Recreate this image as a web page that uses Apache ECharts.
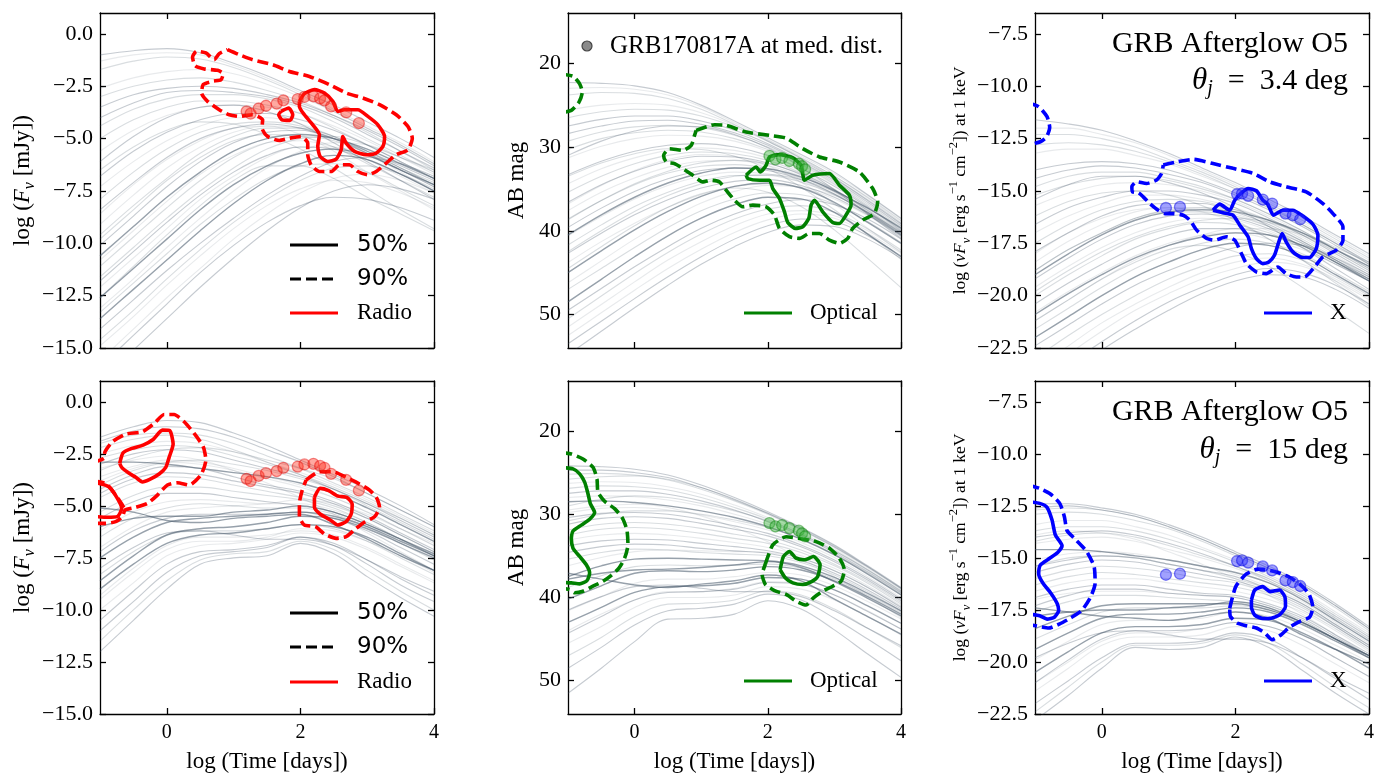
<!DOCTYPE html>
<html><head><meta charset="utf-8">
<script src="https://cdn.jsdelivr.net/npm/echarts@6/dist/echarts.min.js"></script>
<style>html,body{margin:0;padding:0;background:#fff}#c{width:1389px;height:776px}</style>
</head><body><div id="c"></div><script>
// ---------------- DATA ----------------
const timeGrid = [-1, -0.5, 0, 0.5, 1, 1.5, 2, 2.5, 3, 3.5, 4];
const xTicks = [0, 2, 4];
const fluxTicks = [-15, -12.5, -10, -7.5, -5, -2.5, 0];
const magTicks = [20, 30, 40, 50];
const xrayTicks = [-22.5, -20, -17.5, -15, -12.5, -10, -7.5];

// theta_j = 3.4 deg, model light curves (values at timeGrid)
const radioCurvesNarrow = [
[-1.0,-0.8,-0.7,-0.9,-1.4,-2.0,-2.7,-3.4,-4.2,-5.0,-5.9],
[-1.7,-1.3,-1.1,-1.2,-1.6,-2.2,-2.9,-3.7,-4.5,-5.3,-6.2],
[-2.6,-2.1,-1.8,-1.7,-1.9,-2.4,-3.0,-3.7,-4.5,-5.3,-6.2],
[-3.5,-2.9,-2.6,-2.5,-2.6,-2.9,-3.3,-3.9,-4.6,-5.4,-6.3],
[-4.4,-3.6,-3.1,-2.9,-2.9,-3.1,-3.5,-4.2,-5.0,-5.8,-6.6],
[-5.6,-4.6,-3.9,-3.5,-3.4,-3.5,-3.8,-4.4,-5.1,-5.9,-6.7],
[-6.8,-5.6,-4.7,-4.1,-3.8,-3.8,-4.1,-4.6,-5.3,-6.1,-6.9],
[-7.9,-6.6,-5.5,-4.7,-4.3,-4.2,-4.4,-4.9,-5.6,-6.4,-7.2],
[-9.1,-7.7,-6.4,-5.4,-4.7,-4.4,-4.5,-5.0,-5.7,-6.5,-7.3],
[-10.1,-8.7,-7.3,-6.1,-5.2,-4.7,-4.6,-5.0,-5.6,-6.3,-7.0],
[-11.1,-9.7,-8.3,-7.0,-5.9,-5.2,-4.9,-5.1,-5.7,-6.4,-7.1],
[-12.1,-10.7,-9.3,-7.9,-6.8,-5.9,-5.4,-5.4,-5.8,-6.5,-7.2],
[-13.6,-12.2,-10.8,-9.4,-8.1,-7.0,-6.2,-5.8,-6.0,-6.7,-7.5],
[-14.6,-13.2,-11.7,-10.3,-9.0,-7.9,-7.0,-6.4,-6.3,-6.7,-7.4],
[-15.6,-14.1,-12.6,-11.2,-9.8,-8.6,-7.6,-6.9,-6.7,-7.0,-7.6],
[-16.6,-15.1,-13.6,-12.1,-10.7,-9.4,-8.3,-7.5,-7.2,-7.4,-7.9],
[-12.6,-11.1,-9.6,-8.2,-7.0,-6.3,-6.3,-6.9,-7.8,-8.6,-9.4],
[-8.6,-7.2,-6.0,-5.1,-4.5,-4.4,-4.8,-5.6,-6.6,-7.5,-8.4],
[-6.1,-4.9,-4.0,-3.5,-3.4,-3.7,-4.3,-5.2,-6.1,-7.0,-7.9],
[-11.6,-10.2,-8.8,-7.5,-6.4,-5.5,-5.0,-4.9,-5.3,-5.9,-6.5],
[-13.1,-11.7,-10.2,-8.8,-7.5,-6.4,-5.6,-5.2,-5.3,-5.9,-6.6],
[-12.6,-11.2,-9.8,-8.4,-7.2,-6.3,-5.7,-5.5,-5.8,-6.5,-7.2],
[-3.0,-2.5,-2.2,-2.1,-2.3,-2.7,-3.2,-3.9,-4.7,-5.6,-6.5],
[-10.6,-9.2,-7.8,-6.6,-5.6,-5.0,-4.8,-5.0,-5.5,-6.2,-6.9],
[-14.1,-12.7,-11.3,-10.0,-8.8,-7.7,-6.8,-6.1,-5.9,-6.2,-6.8],
[-9.6,-8.2,-6.9,-5.7,-4.9,-4.5,-4.5,-4.9,-5.6,-6.4,-7.2],
[-1.3,-1.0,-0.9,-1.0,-1.5,-2.1,-2.8,-3.6,-4.4,-5.2,-6.1],
[-4.0,-3.3,-2.8,-2.7,-2.8,-3.0,-3.4,-4.0,-4.8,-5.6,-6.4],
[-5.0,-4.1,-3.5,-3.2,-3.2,-3.4,-3.8,-4.5,-5.3,-6.1,-6.9],
[-7.3,-6.1,-5.1,-4.4,-4.0,-4.0,-4.3,-4.9,-5.7,-6.6,-7.5],
[-8.4,-7.1,-5.9,-5.0,-4.5,-4.3,-4.5,-5.0,-5.7,-6.5,-7.3],
[-9.8,-8.4,-7.0,-5.9,-5.1,-4.8,-4.9,-5.4,-6.2,-7.0,-7.8],
[-10.8,-9.4,-8.0,-6.7,-5.8,-5.2,-5.1,-5.4,-6.0,-6.8,-7.6],
[-11.8,-10.4,-9.0,-7.7,-6.6,-5.8,-5.4,-5.5,-6.0,-6.7,-7.5],
[-13.3,-11.9,-10.5,-9.1,-7.9,-6.9,-6.3,-6.2,-6.6,-7.4,-8.2],
[-14.9,-13.5,-12.0,-10.6,-9.3,-8.2,-7.4,-7.0,-7.1,-7.6,-8.3],
[-15.9,-14.4,-12.9,-11.4,-10.1,-9.0,-8.2,-7.8,-7.9,-8.3,-8.9],
[-6.5,-5.4,-4.6,-4.2,-4.3,-4.8,-5.5,-6.4,-7.4,-8.4,-9.3]
];
const opticalCurvesNarrow = [
[22.3,22.4,22.7,23.5,25.0,26.9,28.9,30.9,33.0,35.7,38.5],
[23.8,23.5,23.6,24.2,25.5,27.3,29.3,31.3,33.5,36.0,38.8],
[25.6,25.0,24.8,25.0,25.9,27.4,29.2,31.3,33.5,36.1,39.0],
[27.5,26.7,26.3,26.3,26.9,28.0,29.6,31.6,33.8,36.4,39.2],
[29.3,28.2,27.6,27.4,27.7,28.6,30.0,31.9,34.2,36.8,39.6],
[31.3,29.9,29.0,28.6,28.7,29.3,30.5,32.3,34.5,37.1,39.9],
[33.3,31.7,30.5,29.8,29.6,30.0,31.0,32.6,34.7,37.2,40.0],
[35.4,33.5,32.0,31.0,30.6,30.8,31.6,33.1,35.1,37.6,40.3],
[37.6,35.4,33.7,32.4,31.7,31.6,32.2,33.5,35.4,37.9,40.6],
[39.6,37.3,35.3,33.8,32.8,32.5,32.8,33.9,35.6,37.8,40.2],
[41.7,39.3,37.1,35.4,34.1,33.4,33.4,34.2,35.7,37.9,40.4],
[43.8,41.3,39.1,37.2,35.7,34.7,34.4,34.9,36.2,38.2,40.6],
[48.5,45.8,43.1,40.6,38.5,36.9,36.0,36.2,37.8,40.4,43.1],
[50.5,47.8,45.1,42.6,40.4,38.6,37.4,37.0,37.8,39.8,42.3],
[52.5,49.8,47.1,44.5,42.2,40.2,38.7,38.0,38.5,40.3,42.7],
[54.8,52.0,49.2,46.5,44.0,41.9,40.2,39.3,39.5,41.0,43.3],
[44.5,41.9,39.4,37.2,35.6,34.9,35.4,37.1,39.9,43.3,46.8],
[36.8,34.6,32.8,31.5,30.9,31.1,32.2,34.2,36.8,39.7,42.6],
[31.0,29.3,28.1,27.5,27.6,28.5,30.1,32.4,35.1,38.0,40.9],
[42.5,40.0,37.7,35.8,34.4,33.5,33.3,33.9,35.3,37.3,39.6],
[46.2,43.6,41.0,38.7,36.7,35.3,34.6,34.8,35.8,37.8,40.1],
[45.0,42.4,39.9,37.7,35.9,34.7,34.3,34.9,36.6,39.0,41.5],
[26.5,25.8,25.5,25.6,26.3,27.6,29.3,31.4,33.7,36.3,39.1],
[40.5,38.1,36.0,34.3,33.1,32.5,32.6,33.6,35.2,37.3,39.7],
[49.5,46.9,44.3,41.9,39.7,38.0,36.8,36.3,36.9,38.6,41.0],
[38.7,36.4,34.4,32.9,31.9,31.6,32.0,33.2,35.1,37.5,40.1],
[23.0,22.9,23.1,23.8,25.2,27.1,29.1,31.1,33.2,35.8,38.6],
[28.4,27.5,26.9,26.8,27.3,28.3,29.8,31.8,34.0,36.6,39.4],
[30.3,29.0,28.3,28.0,28.2,29.0,30.3,32.1,34.4,37.0,39.8],
[34.4,32.6,31.3,30.4,30.1,30.4,31.3,32.9,35.0,37.6,40.4],
[36.6,34.5,32.9,31.7,31.1,31.2,31.9,33.3,35.3,37.8,40.5],
[38.6,36.4,34.5,33.1,32.3,32.1,32.6,33.8,35.6,38.0,40.7],
[40.6,38.3,36.2,34.6,33.5,33.0,33.2,34.1,35.7,37.9,40.3],
[42.7,40.3,38.1,36.3,34.9,34.1,33.9,34.6,36.0,38.1,40.5],
[47.0,44.5,42.0,39.6,37.6,36.2,35.5,35.7,36.8,38.9,41.4],
[51.5,48.8,46.1,43.5,41.3,39.4,38.0,37.6,38.2,40.0,42.5],
[53.5,50.8,48.1,45.5,43.1,41.0,39.4,38.6,38.9,40.6,43.0],
[33.5,31.9,30.8,30.2,30.3,31.1,32.6,34.8,37.5,40.4,43.4]
];
const xrayCurvesNarrow = [
[-11.6,-11.8,-12.1,-12.6,-13.2,-13.9,-14.6,-15.4,-16.2,-17.1,-18.0],
[-12.3,-12.3,-12.5,-12.9,-13.5,-14.1,-14.8,-15.6,-16.4,-17.3,-18.2],
[-13.2,-13.0,-13.0,-13.3,-13.7,-14.3,-14.9,-15.7,-16.5,-17.4,-18.3],
[-14.0,-13.7,-13.6,-13.7,-14.0,-14.5,-15.1,-15.8,-16.6,-17.5,-18.4],
[-14.8,-14.3,-14.1,-14.1,-14.4,-14.8,-15.4,-16.1,-16.9,-17.8,-18.7],
[-15.7,-15.1,-14.7,-14.6,-14.7,-15.0,-15.5,-16.2,-17.0,-17.9,-18.8],
[-16.6,-15.8,-15.3,-15.0,-15.0,-15.2,-15.6,-16.3,-17.1,-18.0,-18.9],
[-17.5,-16.6,-15.9,-15.5,-15.4,-15.5,-15.9,-16.5,-17.3,-18.2,-19.1],
[-18.4,-17.4,-16.6,-16.0,-15.8,-15.8,-16.1,-16.7,-17.5,-18.4,-19.3],
[-19.2,-18.2,-17.3,-16.6,-16.2,-16.1,-16.3,-16.8,-17.5,-18.3,-19.1],
[-20.0,-19.0,-18.1,-17.3,-16.8,-16.5,-16.6,-17.0,-17.6,-18.4,-19.2],
[-20.8,-19.8,-18.9,-18.1,-17.5,-17.1,-17.0,-17.3,-17.8,-18.5,-19.3],
[-22.0,-21.0,-20.0,-19.1,-18.4,-17.8,-17.5,-17.6,-18.1,-19.0,-19.9],
[-23.0,-21.9,-20.9,-20.0,-19.2,-18.6,-18.1,-18.0,-18.3,-19.1,-20.0],
[-24.0,-22.8,-21.7,-20.7,-19.9,-19.2,-18.7,-18.4,-18.6,-19.3,-20.2],
[-25.0,-23.8,-22.6,-21.6,-20.7,-19.9,-19.3,-19.0,-19.1,-19.7,-20.6],
[-21.2,-20.2,-19.2,-18.4,-17.8,-17.6,-17.9,-18.6,-19.6,-20.7,-21.8],
[-18.0,-17.0,-16.3,-15.9,-15.8,-16.0,-16.5,-17.3,-18.3,-19.3,-20.4],
[-15.4,-14.7,-14.3,-14.3,-14.6,-15.1,-15.8,-16.7,-17.7,-18.7,-19.7],
[-19.8,-18.8,-17.9,-17.2,-16.7,-16.4,-16.3,-16.5,-17.0,-17.7,-18.4],
[-21.2,-20.2,-19.2,-18.3,-17.6,-17.1,-16.8,-16.8,-17.1,-17.8,-18.6],
[-20.9,-19.9,-19.0,-18.2,-17.6,-17.2,-17.0,-17.1,-17.6,-18.4,-19.3],
[-12.8,-12.7,-12.8,-13.1,-13.6,-14.2,-14.9,-15.7,-16.6,-17.5,-18.5],
[-19.0,-18.0,-17.1,-16.4,-16.0,-15.9,-16.0,-16.4,-17.0,-17.8,-18.6],
[-22.4,-21.4,-20.4,-19.5,-18.8,-18.2,-17.7,-17.5,-17.6,-18.2,-19.0],
[-18.8,-17.8,-17.0,-16.3,-15.9,-15.8,-15.9,-16.4,-17.1,-17.9,-18.8],
[-12.0,-12.0,-12.3,-12.7,-13.3,-14.0,-14.7,-15.5,-16.3,-17.2,-18.1],
[-14.4,-14.0,-13.8,-13.9,-14.2,-14.6,-15.2,-15.9,-16.7,-17.6,-18.5],
[-15.2,-14.7,-14.4,-14.3,-14.5,-14.9,-15.4,-16.1,-16.9,-17.8,-18.7],
[-17.0,-16.2,-15.6,-15.2,-15.2,-15.4,-15.8,-16.4,-17.2,-18.1,-19.0],
[-17.9,-17.0,-16.2,-15.7,-15.6,-15.6,-16.0,-16.6,-17.4,-18.3,-19.2],
[-18.8,-17.8,-17.0,-16.3,-16.0,-16.0,-16.2,-16.7,-17.4,-18.3,-19.2],
[-19.6,-18.6,-17.7,-17.0,-16.5,-16.3,-16.4,-16.9,-17.6,-18.4,-19.2],
[-20.4,-19.4,-18.5,-17.7,-17.1,-16.8,-16.8,-17.1,-17.7,-18.5,-19.3],
[-21.6,-20.6,-19.6,-18.7,-18.0,-17.5,-17.3,-17.5,-18.0,-18.9,-19.8],
[-23.5,-22.4,-21.3,-20.4,-19.6,-18.9,-18.4,-18.2,-18.5,-19.2,-20.1],
[-24.5,-23.3,-22.2,-21.2,-20.3,-19.6,-19.0,-18.7,-18.9,-19.5,-20.4],
[-16.2,-15.5,-15.1,-15.0,-15.2,-15.7,-16.4,-17.3,-18.3,-19.4,-20.5]
];
// theta_j = 15 deg
const radioCurvesWide = [
[-1.7,-1.2,-0.9,-1.0,-1.5,-2.1,-2.8,-3.5,-4.2,-5.0,-5.9],
[-2.0,-1.6,-1.5,-1.6,-2.0,-2.6,-3.2,-3.9,-4.6,-5.4,-6.2],
[-2.5,-2.1,-1.9,-2.0,-2.4,-2.9,-3.4,-4.0,-4.7,-5.5,-6.3],
[-3.0,-2.5,-2.3,-2.4,-2.8,-3.2,-3.6,-4.2,-4.9,-5.7,-6.5],
[-2.9,-2.9,-3.0,-3.2,-3.4,-3.6,-3.9,-4.4,-5.1,-5.9,-6.7],
[-3.6,-3.1,-2.8,-2.9,-3.2,-3.6,-4.0,-4.6,-5.3,-6.1,-6.9],
[-4.2,-3.5,-3.1,-3.2,-3.6,-4.0,-4.3,-4.8,-5.5,-6.3,-7.1],
[-4.6,-3.9,-3.6,-3.7,-4.0,-4.3,-4.6,-5.0,-5.6,-6.4,-7.2],
[-5.1,-5.3,-5.7,-5.8,-5.6,-5.5,-5.4,-5.9,-6.6,-7.4,-8.1],
[-5.6,-4.8,-4.4,-4.4,-4.6,-4.8,-5.0,-5.3,-5.9,-6.6,-7.4],
[-6.5,-5.6,-5.1,-4.9,-5.0,-5.1,-5.1,-5.4,-6.0,-6.8,-7.6],
[-7.5,-6.5,-5.8,-5.6,-5.5,-5.4,-5.3,-5.5,-6.0,-6.7,-7.4],
[-8.6,-7.4,-6.4,-6.1,-6.0,-5.8,-5.5,-5.6,-6.1,-6.8,-7.5],
[-9.0,-7.8,-6.8,-6.4,-6.3,-6.1,-5.9,-6.0,-6.5,-7.3,-8.1],
[-10.0,-8.7,-7.4,-6.9,-6.8,-6.6,-6.3,-6.5,-7.1,-7.9,-8.7],
[-12.0,-10.5,-9.0,-7.8,-7.5,-7.4,-6.8,-7.3,-8.4,-9.4,-10.3],
[-3.3,-2.7,-2.3,-2.2,-2.4,-2.8,-3.2,-3.7,-4.4,-5.2,-6.0],
[-7.0,-6.0,-5.3,-5.1,-5.0,-4.9,-4.7,-4.9,-5.4,-6.1,-6.8],
[-11.0,-9.6,-8.2,-7.4,-7.2,-7.0,-6.5,-6.9,-7.8,-8.8,-9.6],
[-4.0,-3.3,-2.9,-2.8,-3.0,-3.3,-3.7,-4.2,-4.9,-5.6,-6.4],
[-6.0,-5.6,-5.5,-5.5,-5.3,-5.2,-5.0,-5.3,-5.9,-6.6,-7.3],
[-8.0,-7.0,-6.3,-6.2,-6.4,-6.6,-6.6,-6.9,-7.6,-8.4,-9.1],
[-2.2,-1.8,-1.6,-1.8,-2.3,-2.9,-3.5,-4.2,-5.0,-5.8,-6.6],
[-9.5,-8.2,-7.1,-6.7,-6.7,-6.5,-6.1,-6.2,-6.7,-7.4,-8.2],
[-1.9,-1.4,-1.2,-1.3,-1.7,-2.3,-2.9,-3.6,-4.4,-5.2,-6.0],
[-2.7,-2.3,-2.1,-2.2,-2.6,-3.0,-3.5,-4.1,-4.8,-5.6,-6.4],
[-3.8,-3.2,-2.9,-3.0,-3.3,-3.7,-4.1,-4.6,-5.3,-6.1,-6.9],
[-4.4,-3.7,-3.4,-3.5,-3.8,-4.1,-4.4,-4.9,-5.6,-6.4,-7.2],
[-5.3,-4.5,-4.1,-4.1,-4.3,-4.5,-4.7,-5.1,-5.8,-6.6,-7.4],
[-6.2,-5.3,-4.8,-4.7,-4.8,-4.9,-4.9,-5.2,-5.8,-6.6,-7.4],
[-7.2,-6.2,-5.6,-5.4,-5.4,-5.4,-5.3,-5.6,-6.2,-7.0,-7.8],
[-8.3,-7.2,-6.4,-6.2,-6.2,-6.1,-5.9,-6.1,-6.7,-7.5,-8.3],
[-9.3,-8.0,-6.9,-6.5,-6.5,-6.4,-6.2,-6.4,-7.0,-7.8,-8.6],
[-10.5,-9.1,-7.8,-7.2,-7.1,-6.9,-6.5,-6.8,-7.6,-8.5,-9.3],
[-11.5,-10.0,-8.6,-7.6,-7.3,-7.2,-6.7,-7.1,-8.1,-9.1,-10.0],
[-3.2,-2.8,-2.6,-2.8,-3.3,-3.9,-4.6,-5.4,-6.3,-7.2,-8.1]
];
const opticalCurvesWide = [
[24.2,24.3,24.6,25.3,26.5,28.0,29.7,31.6,33.7,36.2,38.8],
[25.2,25.1,25.3,25.9,27.0,28.4,30.0,31.9,34.0,36.4,39.0],
[26.3,26.1,26.2,26.7,27.6,28.9,30.4,32.2,34.2,36.6,39.2],
[27.5,27.2,27.2,27.6,28.4,29.5,30.9,32.6,34.6,36.9,39.4],
[28.5,28.4,28.6,29.0,29.6,30.4,31.5,33.0,34.9,37.2,39.7],
[29.8,29.3,29.2,29.5,30.1,30.9,31.9,33.4,35.2,37.5,40.0],
[31.2,30.5,30.3,30.5,31.1,31.8,32.6,33.9,35.7,37.9,40.4],
[32.5,31.8,31.6,31.8,32.3,32.9,33.5,34.6,36.2,38.3,40.8],
[37.1,37.8,38.5,38.8,38.4,38.0,37.3,38.0,40.2,42.3,44.4],
[33.8,33.2,33.0,33.1,33.5,33.9,34.4,35.3,36.8,38.8,41.2],
[35.4,34.6,34.2,34.3,34.6,34.8,35.0,35.8,37.3,39.3,41.6],
[37.5,36.2,35.4,35.3,35.4,35.5,35.6,36.2,37.6,39.5,41.6],
[40.2,38.6,37.1,36.8,36.9,36.7,36.3,36.7,38.0,39.9,42.0],
[43.0,41.2,39.4,38.7,38.6,38.3,37.6,37.8,39.1,41.0,43.1],
[45.5,43.5,41.2,40.0,40.0,39.7,38.7,39.0,40.3,42.3,44.5],
[51.5,48.5,45.3,42.6,42.5,42.0,40.4,41.4,43.9,46.8,49.6],
[29.0,28.2,27.8,28.0,28.7,29.6,30.8,32.4,34.4,36.7,39.2],
[36.2,35.2,34.5,34.3,34.4,34.5,34.6,35.3,36.8,38.8,41.1],
[48.5,46.0,43.3,41.6,41.3,40.8,39.6,40.3,42.5,45.0,47.6],
[30.8,30.0,29.6,29.6,30.0,30.7,31.6,33.0,34.8,37.0,39.5],
[37.8,37.1,36.7,36.6,36.4,36.1,35.7,36.4,38.1,40.1,42.2],
[41.5,39.9,38.7,38.5,38.9,39.3,39.3,39.9,41.6,43.7,45.8],
[25.8,25.5,25.4,25.8,26.8,28.3,29.9,31.7,33.8,36.3,38.9],
[44.0,42.0,40.3,39.3,39.3,38.9,38.1,38.4,39.7,41.6,43.8],
[24.7,24.7,25.0,25.6,26.8,28.2,29.9,31.8,33.9,36.3,38.9],
[26.9,26.6,26.7,27.1,28.0,29.2,30.6,32.4,34.4,36.7,39.3],
[28.0,27.8,27.9,28.3,29.0,30.0,31.2,32.8,34.8,37.1,39.6],
[30.4,29.9,29.8,30.0,30.6,31.4,32.3,33.7,35.5,37.7,40.2],
[31.9,31.2,31.0,31.2,31.7,32.4,33.1,34.3,36.0,38.1,40.6],
[33.1,32.5,32.3,32.5,32.9,33.4,34.0,35.0,36.5,38.6,41.0],
[34.6,33.9,33.6,33.7,34.1,34.4,34.7,35.6,37.1,39.1,41.4],
[38.8,37.4,36.3,36.1,36.2,36.1,36.0,36.5,37.8,39.7,41.8],
[41.6,39.9,38.3,37.8,37.8,37.5,37.0,37.3,38.6,40.5,42.6],
[44.3,42.3,40.3,39.4,39.3,39.0,38.2,38.4,39.7,41.7,43.8],
[47.0,44.8,42.3,40.8,40.7,40.3,39.2,39.7,41.4,43.7,46.0],
[29.5,29.0,28.8,29.2,30.2,31.6,33.3,35.3,37.5,39.9,42.4]
];
const xrayCurvesWide = [
[-12.4,-12.4,-12.6,-12.9,-13.4,-14.0,-14.7,-15.4,-16.2,-17.2,-18.3],
[-12.9,-12.8,-12.9,-13.2,-13.6,-14.2,-14.9,-15.6,-16.4,-17.4,-18.5],
[-13.4,-13.2,-13.2,-13.5,-13.9,-14.5,-15.1,-15.8,-16.6,-17.6,-18.6],
[-14.0,-13.8,-13.7,-13.9,-14.3,-14.8,-15.4,-16.0,-16.8,-17.8,-18.8],
[-14.6,-14.6,-14.7,-14.9,-15.1,-15.4,-15.7,-16.2,-17.0,-18.0,-19.0],
[-15.1,-14.8,-14.7,-14.8,-15.1,-15.4,-15.8,-16.4,-17.1,-18.1,-19.1],
[-15.7,-15.3,-15.1,-15.2,-15.5,-15.8,-16.1,-16.6,-17.3,-18.3,-19.3],
[-16.3,-15.9,-15.7,-15.8,-16.0,-16.2,-16.4,-16.8,-17.5,-18.4,-19.4],
[-17.4,-17.6,-17.8,-17.9,-18.0,-17.8,-17.6,-17.9,-18.7,-19.4,-20.1],
[-16.9,-16.5,-16.3,-16.3,-16.5,-16.7,-16.8,-17.2,-17.8,-18.7,-19.6],
[-17.6,-17.1,-16.8,-16.8,-16.9,-17.0,-17.1,-17.4,-18.0,-18.9,-19.8],
[-18.4,-17.8,-17.3,-17.2,-17.2,-17.2,-17.2,-17.5,-18.1,-18.9,-19.7],
[-19.4,-18.6,-17.9,-17.7,-17.7,-17.6,-17.4,-17.6,-18.2,-19.0,-19.8],
[-20.5,-19.5,-18.6,-18.3,-18.3,-18.2,-17.9,-18.0,-18.6,-19.4,-20.3],
[-21.4,-20.3,-19.2,-18.8,-18.8,-18.7,-18.3,-18.5,-19.2,-20.1,-21.0],
[-22.8,-21.6,-20.3,-19.3,-19.4,-19.3,-18.8,-19.3,-20.4,-21.5,-22.5],
[-14.2,-13.9,-13.8,-14.0,-14.4,-14.9,-15.4,-16.1,-16.9,-17.9,-18.9],
[-17.0,-16.7,-16.6,-16.6,-16.7,-16.8,-16.9,-17.3,-18.0,-18.9,-19.8],
[-22.0,-20.9,-19.8,-19.1,-19.1,-19.0,-18.6,-18.9,-19.8,-20.8,-21.8],
[-15.4,-15.0,-14.9,-15.0,-15.3,-15.6,-16.0,-16.5,-17.2,-18.2,-19.2],
[-17.8,-17.6,-17.5,-17.5,-17.4,-17.3,-17.1,-17.4,-18.1,-18.9,-19.7],
[-19.8,-19.1,-18.6,-18.5,-18.7,-18.9,-18.9,-19.1,-19.8,-20.7,-21.5],
[-12.7,-12.6,-12.7,-13.0,-13.5,-14.1,-14.8,-15.5,-16.3,-17.3,-18.4],
[-21.0,-20.0,-19.0,-18.6,-18.6,-18.4,-18.1,-18.3,-18.9,-19.8,-20.7],
[-12.6,-12.5,-12.7,-13.0,-13.5,-14.1,-14.8,-15.5,-16.3,-17.3,-18.4],
[-13.7,-13.5,-13.5,-13.7,-14.1,-14.6,-15.2,-15.9,-16.7,-17.7,-18.7],
[-14.3,-14.1,-14.0,-14.2,-14.6,-15.0,-15.5,-16.1,-16.9,-17.9,-18.9],
[-15.4,-15.1,-14.9,-15.0,-15.3,-15.6,-15.9,-16.5,-17.2,-18.2,-19.2],
[-16.0,-15.6,-15.4,-15.5,-15.7,-16.0,-16.2,-16.7,-17.4,-18.3,-19.3],
[-16.6,-16.2,-16.0,-16.0,-16.2,-16.4,-16.6,-17.0,-17.6,-18.5,-19.5],
[-17.3,-16.8,-16.5,-16.5,-16.7,-16.8,-16.9,-17.3,-17.9,-18.8,-19.7],
[-18.9,-18.2,-17.6,-17.4,-17.4,-17.4,-17.3,-17.5,-18.1,-18.9,-19.8],
[-19.9,-19.0,-18.2,-18.0,-18.0,-17.9,-17.6,-17.8,-18.4,-19.2,-20.0],
[-21.0,-19.9,-18.9,-18.5,-18.5,-18.4,-18.1,-18.3,-18.9,-19.8,-20.7],
[-22.4,-21.2,-20.0,-19.2,-19.2,-19.1,-18.7,-19.1,-20.1,-21.2,-22.2],
[-13.9,-13.7,-13.8,-14.1,-14.7,-15.3,-16.0,-16.8,-17.7,-18.7,-19.7]
];
const darkNarrow = [12, 21, 23];
const darkWide = [4, 8, 11, 12, 13, 20];

// GRB170817A at median distance
const grbRadio = [[1.195,-3.70],[1.255,-3.81],[1.375,-3.56],[1.485,-3.43],[1.645,-3.33],[1.745,-3.17],[1.96,-3.11],[2.06,-3.01],[2.195,-2.98],[2.295,-3.08],[2.36,-3.17],[2.46,-3.46],[2.685,-3.75],[2.875,-4.26]];
const grbOptical = [[2.025,31.07],[2.115,31.47],[2.215,31.31],[2.325,31.67],[2.465,31.98],[2.515,32.30],[2.56,32.66]];
const grbXray = [[0.96,-15.81],[1.17,-15.76],[2.025,-15.15],[2.10,-15.12],[2.19,-15.23],[2.41,-15.41],[2.55,-15.60],[2.75,-16.08],[2.86,-16.16],[2.97,-16.35]];

// credible contours: theta_j = 3.4 deg
const radioNarrow90 = [[0.91,-0.75],[1.085,-0.99],[1.285,-1.23],[1.585,-1.47],[1.835,-1.79],[2.135,-2.03],[2.435,-2.42],[2.685,-2.82],[2.935,-3.06],[3.185,-3.38],[3.435,-3.86],[3.61,-4.42],[3.675,-4.98],[3.61,-5.53],[3.435,-5.77],[3.285,-6.17],[3.135,-6.57],[3.01,-6.73],[2.86,-6.57],[2.735,-6.25],[2.585,-6.25],[2.46,-6.57],[2.285,-6.57],[2.16,-6.25],[2.11,-5.77],[2.11,-5.22],[2.01,-4.90],[1.835,-4.98],[1.685,-5.09],[1.51,-4.90],[1.425,-4.50],[1.435,-4.10],[1.285,-3.86],[1.085,-3.94],[0.935,-3.86],[0.785,-3.62],[0.61,-3.22],[0.52,-2.82],[0.545,-2.42],[0.685,-2.26],[0.81,-2.19],[0.845,-1.90],[0.76,-1.74],[0.56,-1.67],[0.425,-1.52],[0.385,-1.10],[0.445,-0.83],[0.585,-0.91],[0.71,-1.23],[0.785,-0.94],[0.91,-0.75]];
const radioNarrow50 = [[1.985,-3.22],[2.06,-2.85],[2.21,-2.66],[2.36,-2.82],[2.485,-3.22],[2.56,-3.70],[2.66,-3.62],[2.86,-3.62],[3.01,-3.94],[3.16,-4.34],[3.26,-4.90],[3.235,-5.37],[3.135,-5.69],[2.985,-5.77],[2.81,-5.61],[2.685,-5.22],[2.635,-4.90],[2.61,-5.53],[2.535,-5.98],[2.41,-6.09],[2.295,-5.85],[2.26,-5.37],[2.285,-4.82],[2.185,-4.34],[2.06,-3.86],[1.985,-3.46],[1.985,-3.22]];
const radioNarrow50b = [[1.71,-3.70],[1.825,-3.54],[1.885,-3.86],[1.845,-4.13],[1.725,-4.10],[1.675,-3.86],[1.71,-3.70]];
const opticalNarrow90 = [[0.925,28.02],[1.20,27.34],[1.375,27.42],[1.675,28.21],[2.025,28.61],[2.275,28.93],[2.525,30.20],[2.775,31.19],[3.075,31.79],[3.375,32.98],[3.575,34.96],[3.65,36.55],[3.60,37.94],[3.425,38.73],[3.275,39.72],[3.20,40.91],[3.075,41.51],[2.925,41.11],[2.775,40.32],[2.625,40.32],[2.475,40.91],[2.325,40.71],[2.175,39.72],[2.10,38.13],[1.975,37.14],[1.775,36.94],[1.625,37.14],[1.50,36.35],[1.375,35.16],[1.275,34.17],[1.15,33.97],[1.025,34.17],[0.875,33.37],[0.725,32.58],[0.60,31.98],[0.475,31.79],[0.435,30.99],[0.525,30.20],[0.725,30.40],[0.85,29.80],[0.90,28.61],[0.925,28.02]];
const opticalNarrow90b = [[-1.1,21.3],[-0.925,21.55],[-0.825,22.46],[-0.785,23.45],[-0.835,24.64],[-0.95,25.63],[-1.1,25.9]];
const opticalNarrow50 = [[1.675,33.37],[1.825,32.38],[1.885,32.98],[1.975,32.18],[2.025,31.19],[2.175,30.91],[2.375,31.31],[2.50,32.18],[2.55,33.97],[2.675,33.37],[2.925,33.17],[3.075,34.56],[3.225,35.75],[3.25,36.94],[3.175,38.13],[3.075,39.13],[2.975,39.01],[2.825,37.74],[2.70,36.35],[2.65,36.94],[2.615,38.53],[2.525,39.52],[2.415,39.72],[2.30,39.01],[2.25,37.74],[2.175,36.15],[2.075,34.96],[2.025,33.97],[1.875,33.97],[1.70,33.77],[1.675,33.37]];
const xrayNarrow90 = [[0.92,-13.76],[1.12,-13.61],[1.37,-13.49],[1.665,-13.69],[1.965,-13.92],[2.265,-14.16],[2.51,-14.56],[2.76,-14.80],[3.06,-15.04],[3.31,-15.60],[3.46,-16.08],[3.61,-16.71],[3.61,-17.35],[3.51,-17.83],[3.31,-18.15],[3.185,-18.63],[3.035,-19.11],[2.91,-19.11],[2.76,-18.95],[2.635,-18.63],[2.46,-18.95],[2.315,-18.87],[2.165,-18.47],[2.09,-17.99],[1.99,-17.35],[1.865,-17.19],[1.69,-17.35],[1.57,-17.27],[1.42,-16.87],[1.32,-16.40],[1.22,-16.16],[1.07,-16.08],[0.945,-16.08],[0.845,-15.92],[0.72,-15.60],[0.62,-15.28],[0.55,-15.09],[0.46,-15.04],[0.45,-14.80],[0.52,-14.56],[0.67,-14.64],[0.82,-14.48],[0.895,-14.16],[0.92,-13.76]];
const xrayNarrow90b = [[-1.1,-10.8],[-0.945,-10.98],[-0.82,-11.45],[-0.78,-11.96],[-0.83,-12.44],[-0.92,-12.65],[-1.1,-12.8]];
const xrayNarrow50 = [[1.665,-15.92],[1.765,-15.63],[1.915,-15.92],[1.99,-15.44],[2.09,-15.09],[2.19,-14.88],[2.315,-14.99],[2.41,-15.44],[2.485,-15.63],[2.57,-16.16],[2.71,-15.92],[2.86,-15.92],[3.01,-16.20],[3.16,-16.59],[3.235,-17.11],[3.21,-17.75],[3.11,-18.18],[3.00,-18.18],[2.86,-17.91],[2.76,-17.43],[2.70,-17.03],[2.65,-17.43],[2.585,-18.07],[2.50,-18.39],[2.41,-18.47],[2.315,-18.23],[2.24,-17.75],[2.19,-17.19],[2.065,-16.63],[1.965,-16.16],[1.815,-16.04],[1.665,-15.92]];

// credible contours: theta_j = 15 deg
const radioWide90 = [[-1.1,-2.9],[-0.94,-2.72],[-0.925,-2.40],[-0.815,-1.92],[-0.615,-1.55],[-0.365,-1.44],[-0.19,-1.04],[-0.04,-0.61],[0.11,-0.61],[0.26,-0.96],[0.41,-1.52],[0.545,-2.16],[0.585,-2.80],[0.51,-3.52],[0.335,-4.00],[0.16,-3.89],[0.01,-4.00],[-0.14,-4.48],[-0.29,-4.88],[-0.465,-5.07],[-0.625,-5.20],[-0.665,-5.52],[-0.765,-5.76],[-0.915,-5.84],[-1.1,-5.84]];
const radioWide90b = [[-1.1,-3.8],[-0.915,-3.92],[-0.765,-4.48],[-0.665,-4.96],[-0.625,-5.20]];
const radioWide90c = [[2.085,-3.76],[2.285,-3.36],[2.485,-3.36],[2.685,-3.63],[2.885,-3.95],[3.035,-4.24],[3.145,-4.64],[3.185,-5.07],[3.11,-5.52],[2.945,-5.81],[2.795,-6.19],[2.685,-6.48],[2.535,-6.56],[2.36,-6.35],[2.225,-6.00],[2.06,-5.92],[1.985,-5.52],[1.985,-4.88],[2.025,-4.27],[2.085,-3.76]];
const radioWide50 = [[-0.705,-2.96],[-0.655,-2.45],[-0.525,-2.24],[-0.355,-2.08],[-0.205,-1.81],[-0.065,-1.36],[0.045,-1.39],[0.095,-2.03],[0.035,-2.67],[-0.015,-3.15],[-0.115,-3.47],[-0.255,-3.73],[-0.365,-3.85],[-0.465,-3.63],[-0.575,-3.41],[-0.675,-3.15],[-0.705,-2.96]];
const radioWide50b = [[-1.1,-3.85],[-0.865,-4.08],[-0.74,-4.64],[-0.675,-5.12],[-0.74,-5.52],[-0.89,-5.55],[-1.1,-5.5]];
const radioWide50c = [[2.21,-4.59],[2.295,-4.16],[2.425,-4.27],[2.56,-4.53],[2.695,-4.59],[2.775,-4.91],[2.76,-5.39],[2.685,-5.76],[2.56,-5.92],[2.435,-5.65],[2.295,-5.39],[2.21,-5.07],[2.21,-4.59]];
const opticalWide90 = [[-1.1,22.6],[-0.95,22.78],[-0.775,23.37],[-0.625,24.37],[-0.565,25.75],[-0.55,27.34],[-0.45,28.45],[-0.30,29.33],[-0.185,30.44],[-0.115,31.90],[-0.10,33.69],[-0.15,35.28],[-0.235,36.47],[-0.35,37.34],[-0.475,38.06],[-0.625,38.65],[-0.775,39.25],[-0.90,39.44],[-0.975,39.05],[-1.1,38.9]];
const opticalWide90c = [[1.965,35.95],[2.075,33.69],[2.275,32.70],[2.525,32.98],[2.725,33.29],[2.925,34.09],[3.075,35.28],[3.15,36.67],[3.10,38.06],[2.975,38.65],[2.825,39.25],[2.685,40.04],[2.575,40.91],[2.425,40.44],[2.275,39.64],[2.10,39.17],[1.965,38.45],[1.915,37.26],[1.965,35.95]];
const opticalWide50 = [[-1.1,24.4],[-0.925,24.56],[-0.825,25.16],[-0.75,26.15],[-0.70,27.54],[-0.665,28.73],[-0.60,29.80],[-0.675,30.60],[-0.80,31.31],[-0.925,32.02],[-0.95,32.90],[-0.925,34.09],[-0.825,35.08],[-0.725,36.07],[-0.675,37.06],[-0.715,37.98],[-0.825,38.37],[-0.95,38.25],[-1.1,38.2]];
const opticalWide50c = [[2.185,36.67],[2.235,35.08],[2.325,34.48],[2.425,35.28],[2.55,35.48],[2.685,35.08],[2.785,36.07],[2.75,37.46],[2.65,38.13],[2.525,38.45],[2.375,38.25],[2.265,37.66],[2.185,36.67]];
const xrayWide90 = [[-1.1,-11.5],[-0.93,-11.66],[-0.77,-11.93],[-0.63,-12.38],[-0.56,-13.02],[-0.52,-13.69],[-0.385,-14.14],[-0.225,-14.70],[-0.115,-15.42],[-0.10,-16.22],[-0.165,-16.86],[-0.30,-17.53],[-0.475,-17.90],[-0.63,-18.17],[-0.795,-18.37],[-0.93,-18.30],[-1.1,-18.2]];
const xrayWide90c = [[1.915,-17.42],[2.005,-16.38],[2.165,-15.77],[2.34,-15.54],[2.49,-15.58],[2.635,-15.70],[2.81,-15.93],[2.96,-16.25],[3.10,-16.73],[3.16,-17.37],[3.11,-17.85],[2.96,-18.06],[2.81,-18.33],[2.685,-18.69],[2.55,-18.93],[2.44,-18.61],[2.315,-18.37],[2.165,-18.26],[2.025,-18.13],[1.925,-17.81],[1.915,-17.42]];
const xrayWide50 = [[-1.1,-12.3],[-0.93,-12.38],[-0.82,-12.57],[-0.745,-13.18],[-0.695,-13.90],[-0.595,-14.42],[-0.66,-14.74],[-0.78,-15.02],[-0.92,-15.34],[-0.945,-15.77],[-0.88,-16.22],[-0.77,-16.66],[-0.67,-17.18],[-0.645,-17.53],[-0.71,-17.85],[-0.82,-17.94],[-0.93,-17.78],[-1.1,-17.7]];
const xrayWide50c = [[2.24,-17.02],[2.29,-16.54],[2.41,-16.38],[2.52,-16.62],[2.66,-16.54],[2.74,-16.86],[2.75,-17.34],[2.66,-17.74],[2.535,-17.90],[2.41,-17.91],[2.29,-17.75],[2.24,-17.37],[2.24,-17.02]];

// ---------------- CHART ----------------
const SERIF = '"Liberation Serif","Times New Roman",serif';
const chart = echarts.init(document.getElementById('c'), null, {renderer: 'canvas'});

const gridPos = [
  {left: 100, top: 13, width: 334, height: 335},
  {left: 568, top: 13, width: 333, height: 335},
  {left: 1035, top: 13, width: 334, height: 335},
  {left: 100, top: 381, width: 334, height: 333},
  {left: 568, top: 381, width: 333, height: 333},
  {left: 1035, top: 381, width: 334, height: 333}
];
const kinds = ['radio', 'optical', 'xray', 'radio', 'optical', 'xray'];
const yCfg = {
  radio: {min: -15, max: 1, ticks: fluxTicks, inverse: false, fmt: v => v.toFixed(1).replace('-', '\u2212')},
  optical: {min: 14, max: 54, ticks: magTicks, inverse: true, fmt: v => String(v)},
  xray: {min: -22.5, max: -6.5, ticks: xrayTicks, inverse: false, fmt: v => v.toFixed(1).replace('-', '\u2212')}
};
const richBase = {
  n: {fontFamily: SERIF, fontSize: 23, color: '#000', lineHeight: 30},
  i: {fontFamily: SERIF, fontStyle: 'italic', fontSize: 23, color: '#000', lineHeight: 30},
  s: {fontFamily: SERIF, fontStyle: 'italic', fontSize: 16, color: '#000', lineHeight: 16, verticalAlign: 'bottom'}
};
const richX = {
  n: {fontFamily: SERIF, fontSize: 17.5, color: '#000', lineHeight: 26},
  i: {fontFamily: SERIF, fontStyle: 'italic', fontSize: 17.5, color: '#000', lineHeight: 26},
  s: {fontFamily: SERIF, fontStyle: 'italic', fontSize: 12.5, color: '#000', lineHeight: 12, verticalAlign: 'bottom'},
  p: {fontFamily: SERIF, fontSize: 12.5, color: '#000', lineHeight: 12, verticalAlign: 'top'}
};
const yNames = {
  radio: {text: '{n|log (}{i|F}{s|\u03bd}{n| [mJy])}', rich: richBase, gap: 60},
  optical: {text: '{n|AB mag}', rich: richBase, gap: 36},
  xray: {text: '{n|log (}{i|\u03bdF}{s|\u03bd}{n| [erg s}{p|\u22121}{n| cm}{p|\u22122}{n|]) at 1 keV}', rich: richX, gap: 55}
};

const axLine = {onZero: false, lineStyle: {color: '#000', width: 1.3}};
const xAxis = [], yAxis = [];
gridPos.forEach((g, i) => {
  const bottomRow = i >= 3;
  xAxis.push({
    type: 'value', gridIndex: i, min: -1, max: 4, position: 'bottom',
    axisLine: axLine,
    axisTick: {inside: true, length: 6, customValues: xTicks, lineStyle: {color: '#000', width: 1.3}},
    axisLabel: {show: bottomRow, customValues: xTicks, showMinLabel: true, showMaxLabel: true, fontFamily: SERIF, fontSize: 20, color: '#000', margin: 9},
    splitLine: {show: false},
    name: bottomRow ? 'log (Time [days])' : '', nameLocation: 'middle', nameGap: 36,
    nameTextStyle: {fontFamily: SERIF, fontSize: 23, color: '#000'}
  });
});
gridPos.forEach((g, i) => {
  xAxis.push({
    type: 'value', gridIndex: i, min: -1, max: 4, position: 'top',
    axisLine: axLine,
    axisTick: {inside: true, length: 6, customValues: xTicks, lineStyle: {color: '#000', width: 1.3}},
    axisLabel: {show: false}, splitLine: {show: false}
  });
});
gridPos.forEach((g, i) => {
  const c = yCfg[kinds[i]], nm = yNames[kinds[i]];
  yAxis.push({
    type: 'value', gridIndex: i, min: c.min, max: c.max, inverse: c.inverse, position: 'left',
    axisLine: axLine,
    axisTick: {inside: true, length: 6, customValues: c.ticks, lineStyle: {color: '#000', width: 1.3}},
    axisLabel: {customValues: c.ticks, formatter: c.fmt, showMinLabel: true, showMaxLabel: true, fontFamily: SERIF, fontSize: 22, color: '#000', margin: 7},
    splitLine: {show: false},
    name: nm.text, nameLocation: 'middle', nameGap: nm.gap, nameRotate: 90,
    nameTextStyle: {rich: nm.rich, fontFamily: SERIF, fontSize: 23, color: '#000'}
  });
});
gridPos.forEach((g, i) => {
  const c = yCfg[kinds[i]];
  yAxis.push({
    type: 'value', gridIndex: i, min: c.min, max: c.max, inverse: c.inverse, position: 'right',
    axisLine: axLine,
    axisTick: {inside: true, length: 6, customValues: c.ticks, lineStyle: {color: '#000', width: 1.3}},
    axisLabel: {show: false}, splitLine: {show: false}
  });
});

const panels = [
  {curves: radioCurvesNarrow, dark: darkNarrow, c90: [radioNarrow90], c50: [radioNarrow50, radioNarrow50b], pts: grbRadio, col: '#ff0000', fill: 'rgba(255,40,20,0.5)', edge: 'rgba(230,0,0,0.55)'},
  {curves: opticalCurvesNarrow, dark: darkNarrow, c90: [opticalNarrow90, opticalNarrow90b], c50: [opticalNarrow50], pts: grbOptical, col: '#008000', fill: 'rgba(60,180,60,0.55)', edge: 'rgba(0,128,0,0.55)'},
  {curves: xrayCurvesNarrow, dark: darkNarrow, c90: [xrayNarrow90, xrayNarrow90b], c50: [xrayNarrow50], pts: grbXray, col: '#0000ff', fill: 'rgba(40,40,255,0.55)', edge: 'rgba(0,0,230,0.6)'},
  {curves: radioCurvesWide, dark: darkWide, c90: [radioWide90, radioWide90b, radioWide90c], c50: [radioWide50, radioWide50b, radioWide50c], pts: grbRadio, col: '#ff0000', fill: 'rgba(255,40,20,0.5)', edge: 'rgba(230,0,0,0.55)'},
  {curves: opticalCurvesWide, dark: darkWide, c90: [opticalWide90, opticalWide90c], c50: [opticalWide50, opticalWide50c], pts: grbOptical, col: '#008000', fill: 'rgba(60,180,60,0.55)', edge: 'rgba(0,128,0,0.55)'},
  {curves: xrayCurvesWide, dark: darkWide, c90: [xrayWide90, xrayWide90c], c50: [xrayWide50, xrayWide50c], pts: grbXray, col: '#0000ff', fill: 'rgba(40,40,255,0.55)', edge: 'rgba(0,0,230,0.6)'}
];

const series = [];
panels.forEach((p, i) => {
  p.curves.forEach((cv, k) => {
    const dark = p.dark.indexOf(k) >= 0;
    const a = dark ? 0.55 : (k % 3 === 0 ? 0.3 : (k % 3 === 1 ? 0.2 : 0.12));
    series.push({
      type: 'line', xAxisIndex: i, yAxisIndex: i, silent: true, animation: false,
      data: timeGrid.map((t, j) => [t, cv[j]]),
      smooth: 0.35, showSymbol: false, z: 1,
      lineStyle: {color: 'rgba(66,84,102,' + a + ')', width: dark ? 1.4 : 1.1}
    });
  });
  p.c90.forEach(poly => series.push({
    type: 'line', xAxisIndex: i, yAxisIndex: i, silent: true, animation: false,
    data: poly, showSymbol: false, smooth: 0.2, z: 3,
    lineStyle: {color: p.col, width: 3.6, type: [11, 5], cap: 'butt'}
  }));
  p.c50.forEach(poly => series.push({
    type: 'line', xAxisIndex: i, yAxisIndex: i, silent: true, animation: false,
    data: poly, showSymbol: false, smooth: 0.2, z: 3,
    lineStyle: {color: p.col, width: 3.6, type: 'solid'}
  }));
  series.push({
    type: 'scatter', xAxisIndex: i, yAxisIndex: i, silent: true, animation: false,
    data: p.pts, symbolSize: 11, z: 5,
    itemStyle: {color: p.fill, borderColor: p.edge, borderWidth: 1.3}
  });
});

// legends and annotations (layout only)
function legendLine(x, y, color, dashed) {
  return {type: 'line', shape: {x1: x, y1: y, x2: x + 48, y2: y},
    style: {stroke: color, lineWidth: 3.2, lineDash: dashed ? [11, 5] : null}, z: 10};
}
function legendText(x, y, text, font) {
  return {type: 'text', x: x, y: y, style: {text: text, font: font, fill: '#000', verticalAlign: 'middle', align: 'left'}, z: 10};
}
const graphic = [];
[[245, 279, 313], [613, 647, 682]].forEach(ys => {
  graphic.push(legendLine(290, ys[0], '#000', false));
  graphic.push(legendText(357, ys[0], '50%', '23px "DejaVu Sans"'));
  graphic.push(legendLine(290, ys[1], '#000', true));
  graphic.push(legendText(357, ys[1], '90%', '23px "DejaVu Sans"'));
  graphic.push(legendLine(290, ys[2], '#ff0000', false));
  graphic.push(legendText(357, ys[2], 'Radio', '23px ' + SERIF));
});
[313, 681].forEach(y => {
  graphic.push(legendLine(744, y, '#008000', false));
  graphic.push(legendText(810, y, 'Optical', '23px ' + SERIF));
  graphic.push(legendLine(1264, y, '#0000ff', false));
  graphic.push(legendText(1330, y, 'X', '23px ' + SERIF));
});
graphic.push({type: 'circle', shape: {cx: 587, cy: 46, r: 5}, style: {fill: '#8a8a8a', stroke: '#444', lineWidth: 1.2}, z: 10});
graphic.push(legendText(610, 46, 'GRB170817A at med. dist.', '25px ' + SERIF));
const richTheta = {
  t: {fontFamily: SERIF, fontStyle: 'italic', fontSize: 31, lineHeight: 36, fill: '#000'},
  s: {fontFamily: SERIF, fontStyle: 'italic', fontSize: 20, lineHeight: 18, verticalAlign: 'bottom', fill: '#000'},
  n: {fontFamily: SERIF, fontSize: 30, lineHeight: 36, fill: '#000'}
};
[[44, 81, '3.4'], [412, 450, '15']].forEach(r => {
  graphic.push({type: 'text', x: 1348, y: r[0], style: {text: 'GRB Afterglow O5', font: '30px ' + SERIF, fill: '#000', align: 'right', verticalAlign: 'middle'}, z: 10});
  graphic.push({type: 'text', x: 1348, y: r[1], style: {text: '{t|\u03b8}{s|j}{n|  =  ' + r[2] + ' deg}', rich: richTheta, align: 'right', verticalAlign: 'middle'}, z: 10});
});

chart.setOption({
  animation: false,
  backgroundColor: '#fff',
  grid: gridPos,
  xAxis: xAxis,
  yAxis: yAxis,
  series: series,
  graphic: graphic
});
</script></body></html>
